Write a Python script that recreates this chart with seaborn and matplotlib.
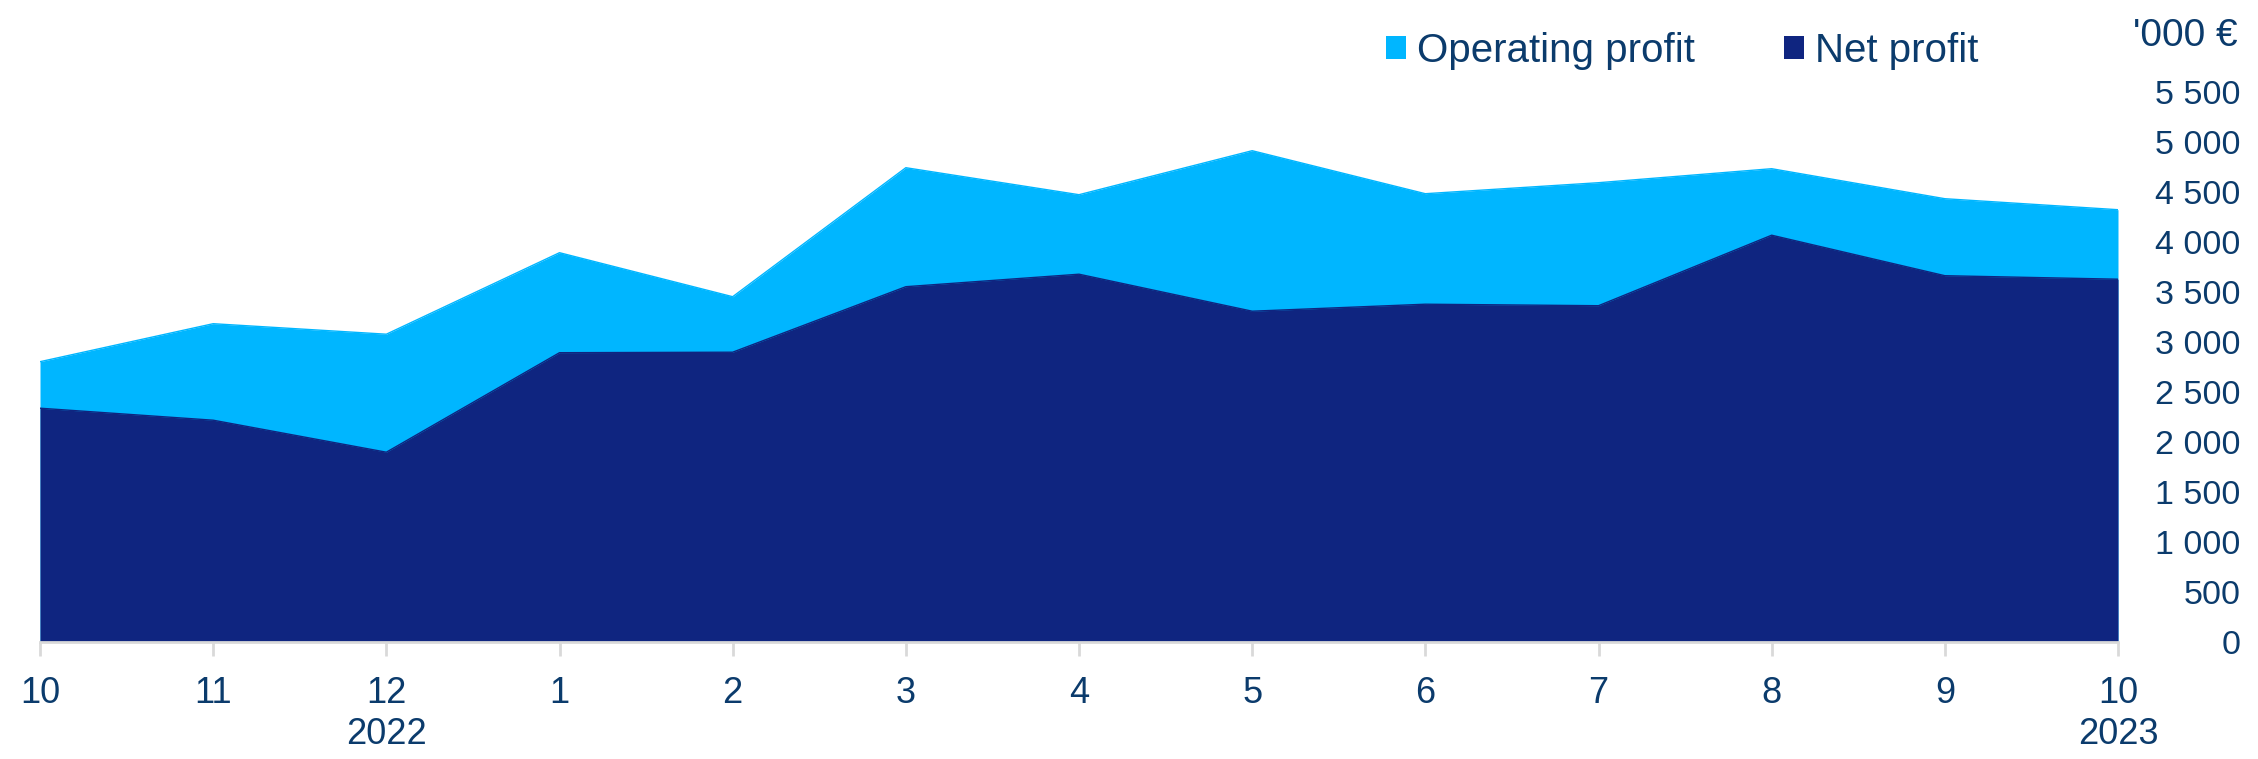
import matplotlib
matplotlib.use("Agg")
import matplotlib.pyplot as plt
import seaborn as sns
import numpy as np
import pandas as pd
from matplotlib.patches import Patch

months = ["10", "11", "12", "1", "2", "3", "4", "5", "6", "7", "8", "9", "10"]
years = ["", "", "2022", "", "", "", "", "", "", "", "", "", "2023"]
operating_profit = [2800, 3180, 3075, 3890, 3450, 4740, 4470, 4910, 4480, 4590, 4730, 4430, 4320]
net_profit = [2335, 2215, 1895, 2890, 2895, 3550, 3675, 3305, 3375, 3360, 4065, 3660, 3625]
y_ticks = [0, 500, 1000, 1500, 2000, 2500, 3000, 3500, 4000, 4500, 5000, 5500]
unit_label = "'000 €"

LIGHT = "#00B6FF"
DARK = "#0F2580"
TEXT = "#0B3B6C"
GRID = "#D9D9D9"

sns.set_theme(style="white")
plt.rcParams["font.family"] = ["Liberation Sans", "DejaVu Sans"]

df = pd.DataFrame({"idx": np.arange(len(months)),
                   "Operating profit": operating_profit,
                   "Net profit": net_profit})

fig = plt.figure(figsize=(22.58, 7.59), dpi=100)
ax = fig.add_axes([40 / 2258, 117.3 / 759, (2118 - 40) / 2258, 0.7905])

ax.fill_between(df["idx"], 0, df["Operating profit"], color=LIGHT, linewidth=0)
ax.fill_between(df["idx"], 0, df["Net profit"], color=DARK, linewidth=0)
sns.lineplot(data=df, x="idx", y="Operating profit", ax=ax, color=LIGHT, linewidth=1, legend=False)
sns.lineplot(data=df, x="idx", y="Net profit", ax=ax, color=DARK, linewidth=1, legend=False)

ax.set_xlim(0, len(months) - 1)
ax.set_ylim(0, 6000)
ax.set_xlabel("")
ax.set_ylabel("")

xlabels = [m if not y else f"{m}\n{y}" for m, y in zip(months, years)]
ax.set_xticks(np.arange(len(months)))
ax.set_xticklabels(xlabels, fontsize=26, color=TEXT, linespacing=1.22, va="top")
ax.tick_params(axis="x", length=10, width=2, color=GRID, pad=15, bottom=True)

ax.yaxis.tick_right()
ax.set_yticks(y_ticks)
ax.set_yticklabels([f"{v:,}".replace(",", " ") for v in y_ticks], fontsize=24.5, color=TEXT, ha="right")
ax.tick_params(axis="y", length=0, pad=88)

for s in ["top", "left", "right"]:
    ax.spines[s].set_visible(False)
ax.spines["bottom"].set_color(GRID)
ax.spines["bottom"].set_linewidth(2)
ax.grid(False)

fig.text(2238 / 2258, 1 - 36 / 759, unit_label, ha="right", va="center", fontsize=28, color=TEXT)

handles = [Patch(facecolor=LIGHT, edgecolor="none"), Patch(facecolor=DARK, edgecolor="none")]
leg = fig.legend(handles, ["Operating profit", "Net profit"], loc="center left",
                 bbox_to_anchor=(1386 / 2258, 1 - 51 / 759), ncol=2, frameon=False,
                 fontsize=29, handlelength=0.5, handleheight=0.5, handletextpad=0.27,
                 columnspacing=2.2, borderaxespad=0, borderpad=0)
for t in leg.get_texts():
    t.set_color(TEXT)

fig.savefig("out.png", dpi=100)
